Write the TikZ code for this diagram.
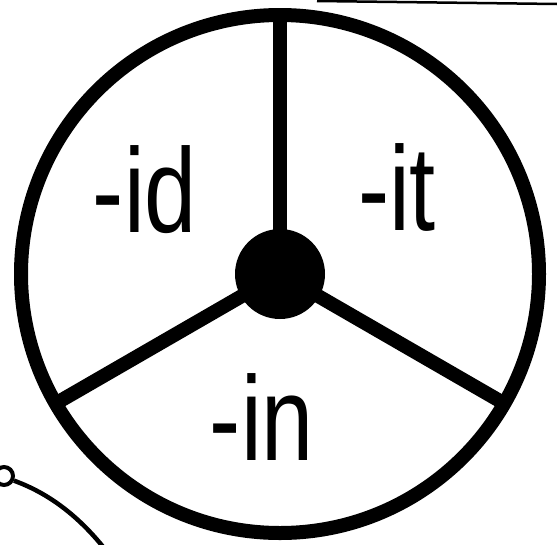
\documentclass[tikz,border=0pt]{standalone}
\usepackage{fontspec}
\setmainfont{Liberation Sans}
\usetikzlibrary{calc}
\newcommand{\narrow}[1]{\scalebox{.78}[1]{#1}}

\begin{document}
\begin{tikzpicture}[x=1pt,y=-1pt,
  rim/.style={draw,line width=14pt},
  spoke/.style={line width=14pt},
  hub/.style={circle,fill,minimum size=90pt,inner sep=0pt},
  lbl/.style={anchor=base,inner sep=0pt,font=\fontsize{120}{120}\selectfont}]
\useasboundingbox (0,0) rectangle (557,544);
% wheel
\node[hub] (hub) at (280,274) {};
\draw[rim] (hub.center) circle[radius=259];
\foreach \n/\a in {top/270,left/150,right/30}{
\coordinate (rim\n) at ($(hub.center)+(\a:259)$);
\draw[spoke] (hub.center) -- (rim\n);}
% labels
\node[lbl] (id) at (145,232) {\narrow{-id}};
\node[lbl] (it) at (397,230) {\narrow{-it}};
\node[lbl] (in) at (262,460) {\narrow{-in}};
% string at the bottom left
\node[draw,circle,line width=4pt,minimum size=18pt,inner sep=0pt] (knob) at (4,476) {};
\coordinate (tail) at (104,548);
\draw[line width=4.5pt] (knob.-25) .. controls (45,492) and (75,512) .. (tail);
% edge line at the top
\coordinate (edgeL) at (317,1);
\coordinate (edgeR) at (557,4);
\draw[line width=2.5pt] (edgeL) -- (edgeR);
\end{tikzpicture}
\end{document}
